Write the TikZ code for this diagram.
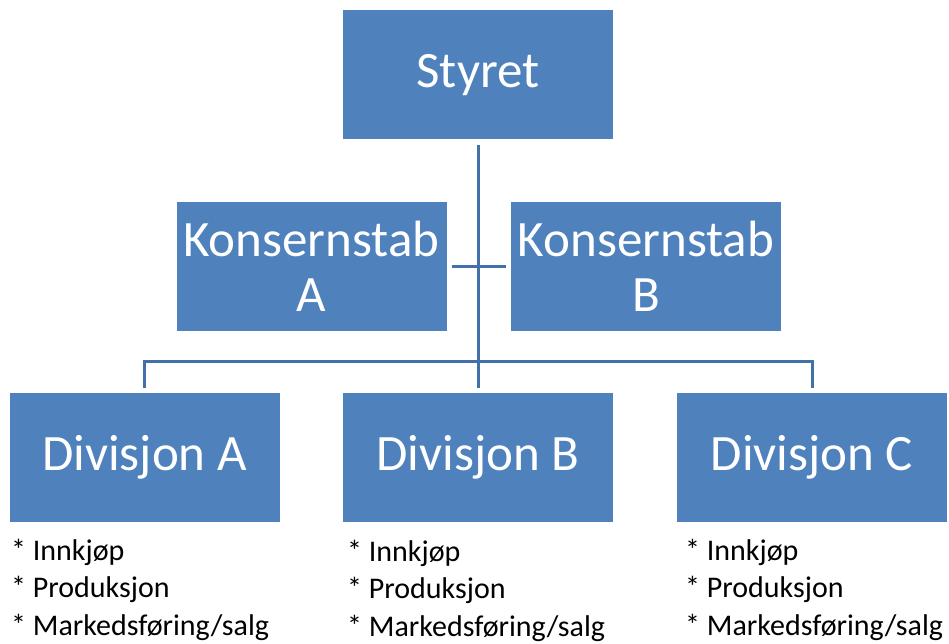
\documentclass[tikz,border=0pt]{standalone}
\usepackage{fontspec}
\setmainfont{Carlito}
\usetikzlibrary{positioning}

\definecolor{boxblue}{HTML}{4F81BD}
\definecolor{lineblue}{HTML}{4271A9}

\tikzset{
  orgbox/.style={fill=boxblue, text=white, minimum width=270pt, minimum height=129pt,
    inner sep=0pt, align=center, font=\fontsize{51}{55}\selectfont},
  conn/.style={draw=lineblue, line width=3pt},
  tasks/.style={anchor=base west, align=left, inner sep=0pt,
    font=\fontsize{30}{37.5}\selectfont}
}

\begin{document}
\begin{tikzpicture}[x=1pt,y=-1pt]
  \useasboundingbox (0,0) rectangle (949,644);

  % boxes
  \node[orgbox] (styret) at (478,75) {Styret};
  \node[orgbox] (stabA) at (311.5,266.5) {Konsernstab\\A};
  \node[orgbox] (stabB) at (646,266.5) {Konsernstab\\B};
  \node[orgbox] (divA) at (144.5,457.5) {Divisjon A};
  \node[orgbox] (divB) at (478,457.5) {Divisjon B};
  \node[orgbox] (divC) at (812,457.5) {Divisjon C};

  % connectors
  \draw[conn, shorten <=5pt, shorten >=5pt] (styret.south) -- (divB.north);
  \draw[conn, shorten <=5pt, shorten >=5pt] (stabA.east) -- (stabB.west);
  \coordinate (bus) at (478,361);
  \draw[conn] ([yshift=5pt]divA.north) |- (bus) -| ([yshift=5pt]divC.north);

  % task lists (base = last line)
  \node[tasks] (listA) at (11,635) {* Innkjøp\\* Produksjon\\* Markedsføring/salg};
  \node[tasks] (listB) at (347,636) {* Innkjøp\\* Produksjon\\* Markedsføring/salg};
  \node[tasks] (listC) at (685,635) {* Innkjøp\\* Produksjon\\* Markedsføring/salg};

\end{tikzpicture}
\end{document}
